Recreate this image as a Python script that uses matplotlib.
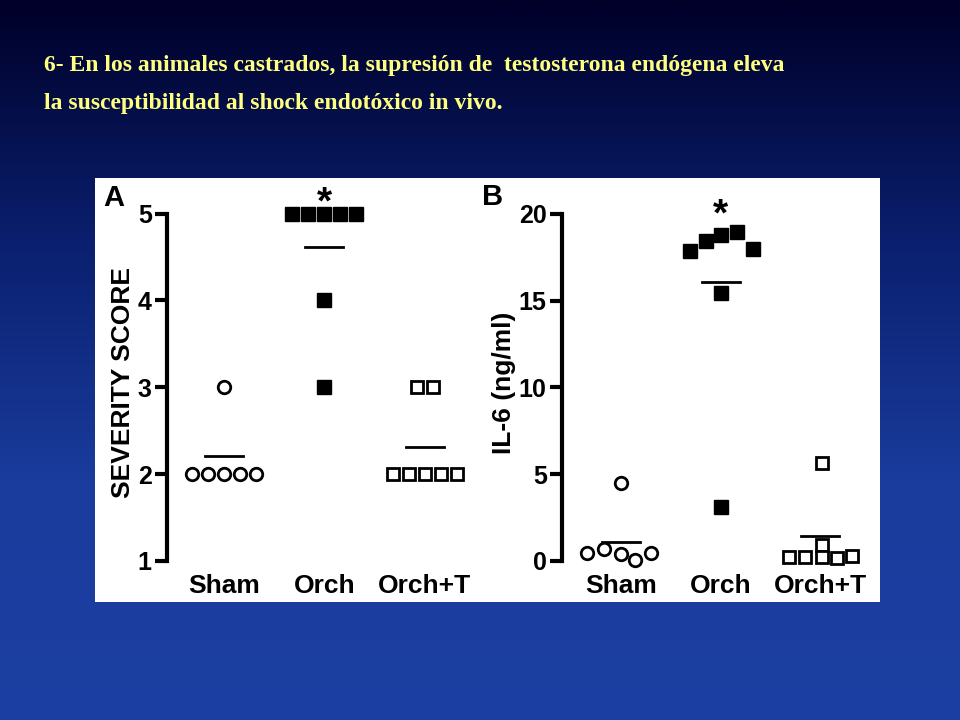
import numpy as np
import matplotlib
matplotlib.use("Agg")
import matplotlib.pyplot as plt
from matplotlib.patches import Rectangle
from matplotlib.colors import LinearSegmentedColormap

categories = ["Sham", "Orch", "Orch+T"]
# Panel A: severity score
a_sham = [2, 2, 2, 2, 2, 3]
a_orch = [5, 5, 5, 5, 5, 4, 3]
a_orcht = [2, 2, 2, 2, 2, 3, 3]
a_means = [2.21, 4.62, 2.31]
# Panel B: IL-6 (ng/ml)
b_sham = [0.45, 0.67, 0.38, 0.06, 0.44, 4.48]
b_orch = [17.85, 18.46, 18.77, 18.96, 17.98, 15.44, 3.08]
b_orcht = [0.2, 0.2, 0.92, 0.2, 0.15, 0.25, 5.63]
b_means = [1.1, 16.06, 1.44]

# horizontal jitter (layout only)
offA = [[-0.32, -0.16, 0, 0.16, 0.32, 0],
        [-0.32, -0.16, 0, 0.16, 0.32, 0, 0],
        [-0.32, -0.16, 0, 0.16, 0.32, -0.08, 0.08]]
offB = [[-0.34, -0.17, 0, 0.14, 0.30, 0],
        [-0.31, -0.15, 0, 0.16, 0.32, 0, 0],
        [-0.31, -0.15, 0.02, 0.02, 0.17, 0.32, 0.02]]

fig = plt.figure(figsize=(9.6, 7.2), dpi=100)
bg = fig.add_axes([0, 0, 1, 1])
grad = np.linspace(0, 1, 256).reshape(-1, 1)
cmap = LinearSegmentedColormap.from_list("bg", ["#000028", "#0a1f6e", "#1a3c9c", "#1c3fa3"])
bg.imshow(grad, aspect="auto", cmap=cmap, extent=[0, 1, 0, 1], origin="upper")
bg.set_axis_off()
bg.add_patch(Rectangle((95/960, 1-602/720), 785/960, 424/720, transform=bg.transAxes,
                       facecolor="white", edgecolor="none", zorder=5))

ttl = dict(color="#ffff80", fontfamily="Liberation Serif", fontweight="bold", fontsize=17)
fig.text(44/960, 1-66/720, "6- En los animales castrados, la supresión de  testosterona endógena eleva", va="center", **ttl)
fig.text(44/960, 1-103/720, "la susceptibilidad al shock endotóxico in vivo.", va="center", **ttl)

font = "Liberation Sans"

def setup(ax, ylabel, ticks, bounds, xpad):
    for s in ["top", "right", "bottom"]:
        ax.spines[s].set_visible(False)
    ax.spines["left"].set_linewidth(3)
    ax.spines["left"].set_bounds(*bounds)
    ax.set_yticks(ticks)
    ax.set_yticklabels([str(t) for t in ticks], fontfamily=font, fontweight="bold", fontsize=18)
    ax.tick_params(axis="y", width=3, length=9, pad=2)
    ax.set_xticks([0, 1, 2])
    ax.set_xticklabels(categories, fontfamily=font, fontweight="bold", fontsize=19)
    ax.tick_params(axis="x", length=0, pad=xpad)
    ax.set_ylabel(ylabel, fontfamily=font, fontweight="bold", fontsize=19, labelpad=2)
    ax.patch.set_alpha(0)

def draw(ax, groups, offs, means, hw=0.19):
    styles = [dict(marker="o", mfc="white", mec="black", mew=2, ms=9),
              dict(marker="s", mfc="black", mec="black", mew=1, ms=10),
              dict(marker="s", mfc="white", mec="black", mew=2, ms=8.5)]
    for i, (vals, off) in enumerate(zip(groups, offs)):
        xs = [i + o for o in off]
        ax.plot(xs, vals, ls="none", clip_on=False, **styles[i])
        ax.plot([i - hw, i + hw], [means[i]] * 2, color="black", lw=2)

axA = fig.add_axes([167/960, 0.2028, 313/960, 0.5306], zorder=10)
axA.set_ylim(0.85, 5.25); axA.set_xlim(-0.567, 2.55)
setup(axA, "SEVERITY SCORE", [1, 2, 3, 4, 5], (1, 5), 0)
draw(axA, [a_sham, a_orch, a_orcht], offA, a_means)
axA.text(1, 5.12, "*", ha="center", va="center", fontsize=28, fontweight="bold", fontfamily=font)

axB = fig.add_axes([562/960, 1-578/720, 318/960, (578-188)/720], zorder=10)
axB.set_ylim(-1, 21.5); axB.set_xlim(-0.593, 2.6)
setup(axB, "IL-6 (ng/ml)", [0, 5, 10, 15, 20], (0, 20), -3)
draw(axB, [b_sham, b_orch, b_orcht], offB, b_means)
axB.text(1, 19.9, "*", ha="center", va="center", fontsize=28, fontweight="bold", fontfamily=font)

fig.text(114/960, 1-198/720, "A", fontfamily=font, fontweight="bold", fontsize=21, va="center", ha="center", zorder=20)
fig.text(493/960, 1-197/720, "B", fontfamily=font, fontweight="bold", fontsize=21, va="center", ha="center", zorder=20)

fig.savefig("out.png", dpi=100)
